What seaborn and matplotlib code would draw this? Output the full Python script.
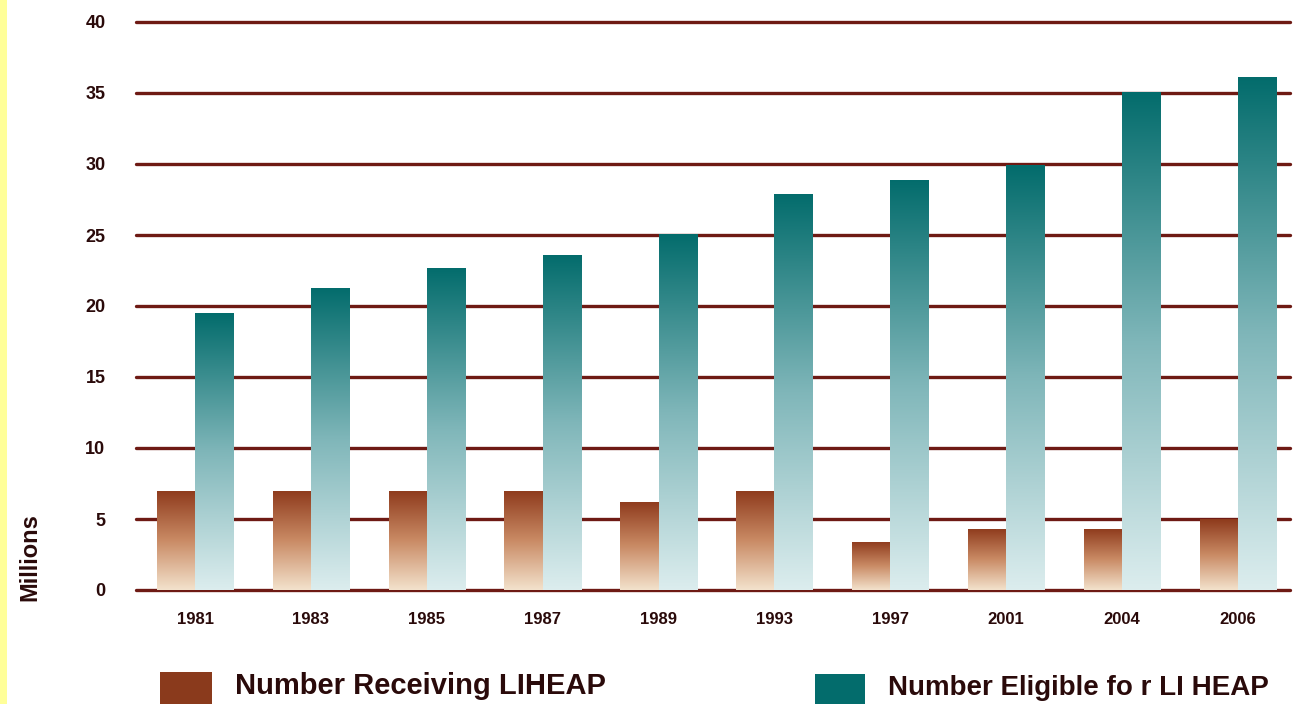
import matplotlib
matplotlib.use("Agg")
import matplotlib.pyplot as plt
import numpy as np
import pandas as pd
import seaborn as sns
from matplotlib.patches import Rectangle
from matplotlib.colors import LinearSegmentedColormap

years = ["1981", "1983", "1985", "1987", "1989", "1993", "1997", "2001", "2004", "2006"]
receiving = [7.0, 7.0, 7.0, 7.0, 6.2, 7.0, 3.4, 4.3, 4.3, 5.0]
eligible = [19.5, 21.3, 22.7, 23.6, 25.1, 27.9, 28.9, 29.9, 35.1, 36.1]
series = ["Number Receiving LIHEAP", "Number Eligible fo r LI HEAP"]

df = pd.DataFrame({
    "year": years * 2,
    "value": receiving + eligible,
    "series": [series[0]] * len(years) + [series[1]] * len(years),
})

sns.set_style("white")
plt.rcParams['font.family'] = ['Liberation Sans', 'DejaVu Sans']

fig = plt.figure(figsize=(12.98, 7.04), dpi=100)
ax = fig.add_axes([136 / 1298, 1 - 590 / 704, (1290 - 136) / 1298, (590 - 22) / 704])

brown_cmap = LinearSegmentedColormap.from_list("br", ["#f3e2cc", "#c98a64", "#8e3a1c"])
teal_cmap = LinearSegmentedColormap.from_list("tl", ["#dcedee", "#7fb6b9", "#036c6c"])

sns.barplot(data=df, x="year", y="value", hue="series", palette=["#8e3a1c", "#036c6c"],
            width=0.66, dodge=True, legend=False, ax=ax, zorder=3)

# grid lines behind bars
for v in range(0, 45, 5):
    ax.axhline(v, color="#6e1a14", lw=2.4, zorder=1, clip_on=False)

# paint bars with vertical gradients
grad = np.linspace(0, 1, 256).reshape(-1, 1)
n = len(years)
for i, p in enumerate(ax.patches[:2 * n]):
    x0, y0 = p.get_x(), p.get_y()
    w, h = p.get_width(), p.get_height()
    cmap = brown_cmap if i < n else teal_cmap
    im = ax.imshow(grad, cmap=cmap, origin="lower", aspect="auto",
                   extent=[x0, x0 + w, y0, y0 + h], zorder=3)
    im.set_clip_path(p)
    p.set_facecolor("none")
    p.set_edgecolor("none")
ax.set_xlim(-0.51, 9.45)
ax.set_ylim(0, 40)

sns.despine(ax=ax, left=True, bottom=True)
ax.set_yticks(range(0, 45, 5))
ax.tick_params(axis="y", length=0, pad=22, labelsize=13)
ax.tick_params(axis="x", length=0, pad=16, labelsize=12)
for t in ax.get_yticklabels() + ax.get_xticklabels():
    t.set_fontweight("bold")
    t.set_color("#2a0a0a")
ax.set_xlabel("")
ax.set_ylabel("")

fig.text(30 / 1298, 1 - 557 / 704, "Millions", rotation=90, ha="center", va="center",
         fontsize=17, fontweight="bold", color="#2a0a0a")

# left yellow strip
fig.patches.append(Rectangle((0, 0), 7 / 1298, 1, transform=fig.transFigure,
                             facecolor="#ffff99", edgecolor="none"))

# legend
fig.patches.append(Rectangle((160 / 1298, 0), 52 / 1298, 32 / 704, transform=fig.transFigure,
                             facecolor="#8a3a1c", edgecolor="none"))
fig.text(235 / 1298, 1 - 686 / 704, series[0], ha="left", va="center",
         fontsize=21, fontweight="bold", color="#2a0a0a")
fig.patches.append(Rectangle((815 / 1298, 0), 50 / 1298, 30 / 704, transform=fig.transFigure,
                             facecolor="#036c6c", edgecolor="none"))
fig.text(888 / 1298, 1 - 688 / 704, series[1], ha="left", va="center",
         fontsize=20, fontweight="bold", color="#2a0a0a")

fig.savefig("out.png", dpi=100)
